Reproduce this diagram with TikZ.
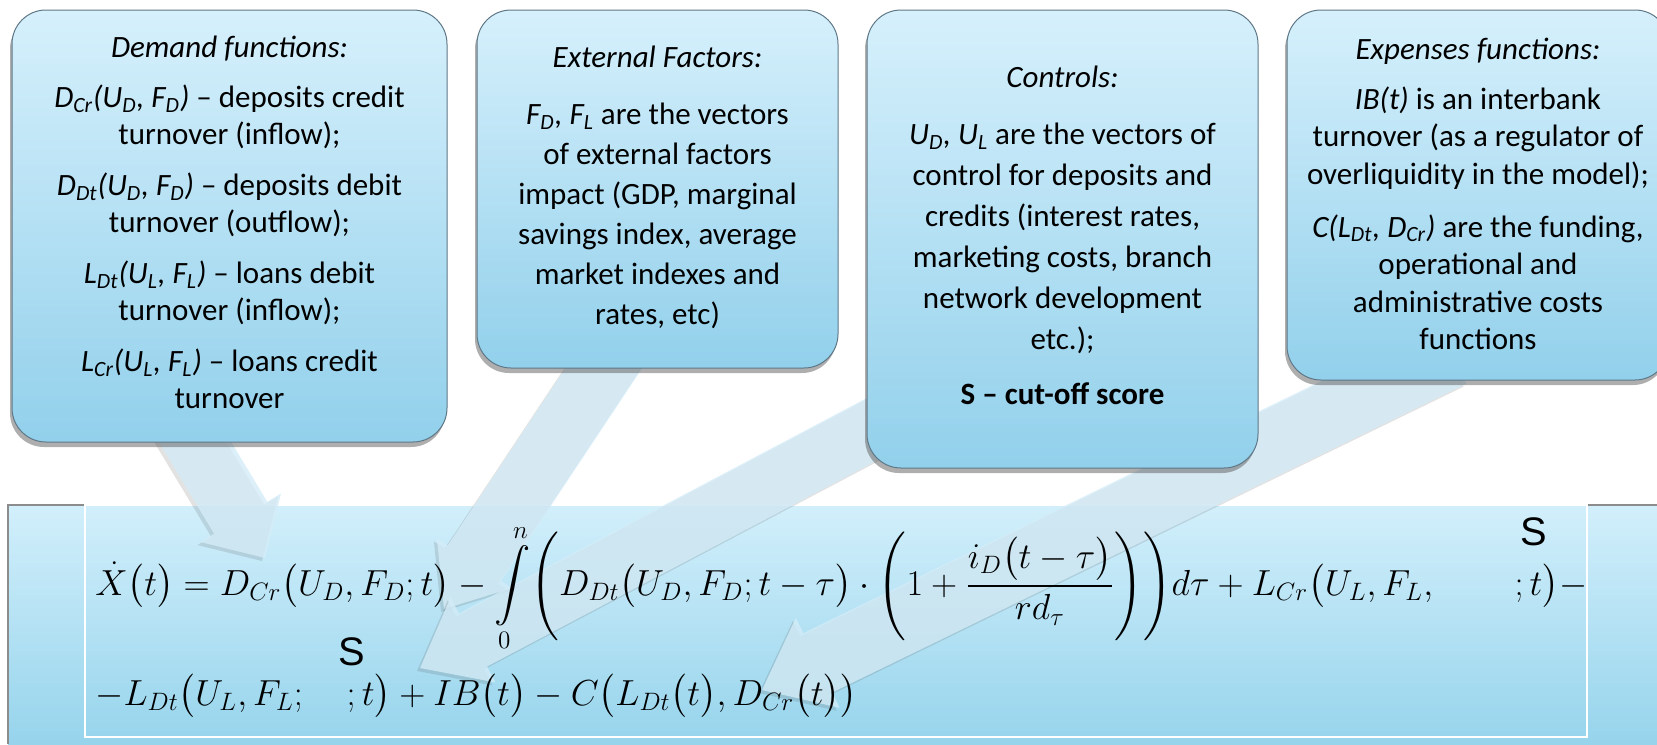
\documentclass[tikz,border=0pt]{standalone}
\usepackage{amsmath}
\usepackage{graphicx}
\usepackage{fontspec}
\setmainfont{Carlito}
\setsansfont{Liberation Sans}
\usetikzlibrary{calc,shadows}

\definecolor{boxtop}{RGB}{214,240,252}
\definecolor{boxbot}{RGB}{146,208,235}
\definecolor{paneltop}{RGB}{210,239,251}
\definecolor{panelbot}{RGB}{150,212,236}
\definecolor{arrowfill}{RGB}{212,236,248}
\definecolor{boxedge}{RGB}{95,120,135}

\tikzset{
  infobox/.style={rounded corners=17pt, draw=boxedge, line width=0.5pt,
    top color=boxtop, bottom color=boxbot,
    drop shadow={shadow xshift=-1pt, shadow yshift=-2.5pt, opacity=0.45, fill=black!70}},
  boxtext/.style={align=center, inner sep=0pt, anchor=north},
  blockarrow/.style={fill=arrowfill, fill opacity=0.8,
    drop shadow={shadow xshift=-1.5pt, shadow yshift=-1.5pt, opacity=0.16, fill=black!70}},
  formula/.style={anchor=base west, inner sep=0pt, font=\fontsize{18}{22}\selectfont},
}

\newcommand\blockarr[5]{%
  \coordinate (hb) at ($(#2)!#5!(#1)$);
  \fill[blockarrow] ($(#1)!#3!90:(#2)$) -- ($(hb)!#3!90:(#2)$) -- ($(hb)!#4!90:(#2)$)
    -- (#2) -- ($(hb)!#4!-90:(#2)$) -- ($(hb)!#3!-90:(#2)$) -- ($(#1)!#3!-90:(#2)$) -- cycle;
}
\newcommand\Sfont{\fontsize{19}{19}\sffamily}

\begin{document}
\begin{tikzpicture}[x=0.5pt,y=-0.5pt]
\useasboundingbox (0,0) rectangle (1657,744);
\clip (0,0) rectangle (1657,744);

% bottom panel
\shade[top color=paneltop, bottom color=panelbot] (8,505) rectangle (1657,744);
\draw[black!45, line width=1pt] (8,744) -- (8,505) -- (1657,505);
\draw[white, line width=1.2pt] (85,505) rectangle (1587,737);

% arrow end points
\coordinate (t1) at (136,344);  \coordinate (h1) at (265,558);
\coordinate (t2) at (659,285);  \coordinate (h2) at (444,609);
\coordinate (t3) at (914,407);  \coordinate (h3) at (420,668);
\coordinate (t4) at (1452,354); \coordinate (h4) at (762,690);

\blockarr{t1}{h1}{15.5pt}{23.5pt}{23.5pt}
\blockarr{t2}{h2}{16pt}{22.5pt}{27.5pt}
\blockarr{t3}{h3}{15pt}{24pt}{30pt}
\blockarr{t4}{h4}{16.5pt}{25pt}{31pt}

% boxes
\node[infobox, minimum width=217.5pt, minimum height=216pt] (b1) at (229.5,226) {};
\node[infobox, minimum width=180.5pt, minimum height=179pt] (b2) at (657.5,189) {};
\node[infobox, minimum width=195.5pt, minimum height=229pt] (b3) at (1062.5,239) {};
\node[infobox, minimum width=191pt, minimum height=185pt] (b4) at (1478,195) {};

\node[boxtext, font=\fontsize{15.5}{18.5}\selectfont] (x1) at (229.5,36) {%
  \textit{Demand functions:}\\[6.5pt]
  \textit{D\textsubscript{Cr}(U\textsubscript{D}, F\textsubscript{D})} -- deposits credit\\
  turnover (inflow);\\[7pt]
  \textit{D\textsubscript{Dt}(U\textsubscript{D}, F\textsubscript{D})} -- deposits debit\\
  turnover (outflow);\\[7pt]
  \textit{L\textsubscript{Dt}(U\textsubscript{L}, F\textsubscript{L})} -- loans debit\\
  turnover (inflow);\\[7pt]
  \textit{L\textsubscript{Cr}(U\textsubscript{L}, F\textsubscript{L})} -- loans credit\\
  turnover};

\node[boxtext, font=\fontsize{15.5}{20}\selectfont] (x2) at (657.5,46) {%
  \textit{External Factors:}\\[8.5pt]
  \textit{F\textsubscript{D}, F\textsubscript{L}} are the vectors\\
  of external factors\\
  impact (GDP, marginal\\
  savings index, average\\
  market indexes and\\
  rates, etc)};

\node[boxtext, font=\fontsize{15.5}{20.5}\selectfont] (x3) at (1062.5,66) {%
  \textit{Controls:}\\[8pt]
  \textit{U\textsubscript{D}, U\textsubscript{L}} are the vectors of\\
  control for deposits and\\
  credits (interest rates,\\
  marketing costs, branch\\
  network development\\
  etc.);\\[7pt]
  \textbf{S -- cut-off score}};

\node[boxtext, font=\fontsize{15.5}{18.7}\selectfont] (x4) at (1478,38) {%
  \textit{Expenses functions:}\\[6pt]
  \textit{IB(t)} is an interbank\\
  turnover (as a regulator of\\
  overliquidity in the model);\\[8pt]
  \textit{C(L\textsubscript{Dt}, D\textsubscript{Cr})} are the funding,\\
  operational and\\
  administrative costs\\
  functions};

% formula
\node[formula] (f1) at (95,595) {\scalebox{1.048}{$\displaystyle
  \dot{X}\bigl(t\bigr)=D_{Cr}\bigl(U_D,F_D;t\bigr)-\int\limits_0^n\Biggl(D_{Dt}\bigl(U_D,F_D;t-\tau\bigr)\cdot
  \Biggl(1+\frac{i_D\bigl(t-\tau\bigr)}{rd_\tau}\Biggr)\Biggr)d\tau+L_{Cr}\bigl(U_L,F_L,
  \hspace{36pt}\rlap{\hspace{3pt}\raisebox{23.8pt}{\Sfont S}};t\bigr)-$}};
\node[formula] (f2) at (95,705) {\scalebox{1.048}{$\displaystyle
  -L_{Dt}\bigl(U_L,F_L;\hspace{18pt}\rlap{\hspace{-3.8pt}\raisebox{19pt}{\Sfont S}};t\bigr)+IB\bigl(t\bigr)-C\bigl(L_{Dt}\bigl(t\bigr),D_{Cr}\bigl(t\bigr)\bigr)$}};
\end{tikzpicture}
\end{document}
